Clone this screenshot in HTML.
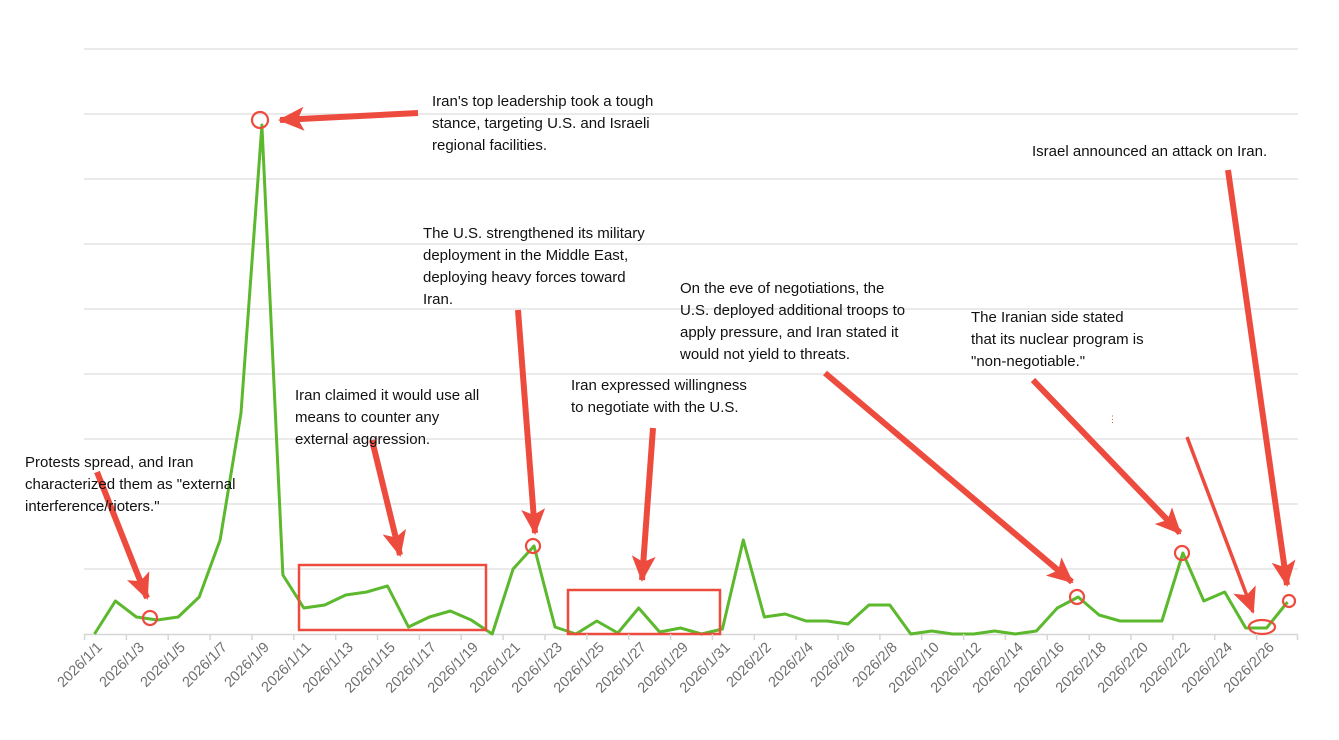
<!DOCTYPE html>
<html><head><meta charset="utf-8"><style>
body{margin:0;background:#fff;width:1339px;height:740px;overflow:hidden}
svg{display:block}
.t{font-family:"Liberation Sans",sans-serif;font-size:15px;fill:#111}
.a{font-family:"Liberation Sans",sans-serif;font-size:14.5px;fill:#6e6e6e}
</style></head><body>
<svg width="1339" height="740" viewBox="0 0 1339 740" xmlns="http://www.w3.org/2000/svg">
<defs>
<marker id="h" markerUnits="userSpaceOnUse" markerWidth="28" markerHeight="26" refX="24" refY="12" orient="auto">
<path d="M0,0 L26,12 L0,24 L6,12 Z" fill="#ee4b3f"/>
</marker>
</defs>
<g stroke="#e3e3e3" stroke-width="1.5">
<line x1="84" y1="49" x2="1298" y2="49"/><line x1="84" y1="114" x2="1298" y2="114"/>
<line x1="84" y1="179" x2="1298" y2="179"/><line x1="84" y1="244" x2="1298" y2="244"/>
<line x1="84" y1="309" x2="1298" y2="309"/><line x1="84" y1="374" x2="1298" y2="374"/>
<line x1="84" y1="439" x2="1298" y2="439"/><line x1="84" y1="504" x2="1298" y2="504"/>
<line x1="84" y1="569" x2="1298" y2="569"/>
</g>
<line x1="84" y1="634.5" x2="1298" y2="634.5" stroke="#d6d6d6" stroke-width="1.5"/>
<polyline fill="none" stroke="#5cb82c" stroke-width="3" stroke-linejoin="round" points="94.5,634 115.4,601 136.4,617 157.3,620 178.2,617 199.2,597 220.1,540 241,413 261.9,125 282.9,575 303.8,608 324.7,605 345.7,595 366.6,592 387.5,586 408.5,627 429.4,617 450.3,611 471.2,620 492.2,634 513.1,569 534,546 555,627 575.9,634 596.8,621 617.8,633 638.7,608 659.6,632 680.5,628 701.5,634 722.4,629 743.3,540 764.3,617 785.2,614 806.1,621 827.1,621 848,624 868.9,605 889.8,605 910.8,634 931.7,631 952.6,634 973.6,634 994.5,631 1015.4,634 1036.4,631 1057.3,608 1078.2,597 1099.1,615 1120.1,621 1141,621 1161.9,621 1182.9,553 1203.8,601 1224.7,592 1245.7,628 1266.6,628 1287.5,602"/>
<g fill="none" stroke="#ee4b3f" stroke-width="2.2">
<circle cx="150" cy="618" r="7"/><circle cx="260" cy="120" r="8"/><circle cx="533" cy="546" r="7"/>
<circle cx="1077" cy="597" r="7"/><circle cx="1182" cy="553" r="7"/><ellipse cx="1262" cy="627" rx="13" ry="7"/>
<circle cx="1289" cy="601" r="6"/>
<rect x="299" y="565" width="187" height="65" stroke-width="2.5"/>
<rect x="568" y="590" width="152" height="44" stroke-width="2.5"/>
</g>
<text x="1108" y="422" font-family="Liberation Sans" font-size="9" fill="#ee4b3f">⋮</text>
<g stroke="#ee4b3f" stroke-width="6" marker-end="url(#h)" fill="none">
<line x1="97" y1="472" x2="147" y2="598"/>
<line x1="418" y1="113" x2="280" y2="120"/>
<line x1="372" y1="440" x2="400" y2="555"/>
<line x1="518" y1="310" x2="535" y2="533"/>
<line x1="653" y1="428" x2="642" y2="580"/>
<line x1="825" y1="373" x2="1072" y2="582"/>
<line x1="1033" y1="380" x2="1180" y2="533"/>
<line x1="1187" y1="437" x2="1253" y2="612" stroke-width="3.5"/>
<line x1="1228" y1="170" x2="1287" y2="585"/>
</g>
<g class="t">
<text x="25" y="467">Protests spread, and Iran</text><text x="25" y="489">characterized them as "external</text><text x="25" y="511">interference/rioters."</text>
<text x="432" y="106">Iran's top leadership took a tough</text><text x="432" y="128">stance, targeting U.S. and Israeli</text><text x="432" y="150">regional facilities.</text>
<text x="423" y="238">The U.S. strengthened its military</text><text x="423" y="260">deployment in the Middle East,</text><text x="423" y="282">deploying heavy forces toward</text><text x="423" y="304">Iran.</text>
<text x="295" y="400">Iran claimed it would use all</text><text x="295" y="422">means to counter any</text><text x="295" y="444">external aggression.</text>
<text x="571" y="390">Iran expressed willingness</text><text x="571" y="412">to negotiate with the U.S.</text>
<text x="680" y="293">On the eve of negotiations, the</text><text x="680" y="315">U.S. deployed additional troops to</text><text x="680" y="337">apply pressure, and Iran stated it</text><text x="680" y="359">would not yield to threats.</text>
<text x="971" y="322">The Iranian side stated</text><text x="971" y="344">that its nuclear program is</text><text x="971" y="366">"non-negotiable."</text>
<text x="1032" y="156">Israel announced an attack on Iran.</text>
</g>
<g class="a" text-anchor="end">
<text transform="translate(103,648) rotate(-45)">2026/1/1</text>
<text transform="translate(145,648) rotate(-45)">2026/1/3</text>
<text transform="translate(186,648) rotate(-45)">2026/1/5</text>
<text transform="translate(228,648) rotate(-45)">2026/1/7</text>
<text transform="translate(270,648) rotate(-45)">2026/1/9</text>
<text transform="translate(312,648) rotate(-45)">2026/1/11</text>
<text transform="translate(354,648) rotate(-45)">2026/1/13</text>
<text transform="translate(396,648) rotate(-45)">2026/1/15</text>
<text transform="translate(437,648) rotate(-45)">2026/1/17</text>
<text transform="translate(479,648) rotate(-45)">2026/1/19</text>
<text transform="translate(521,648) rotate(-45)">2026/1/21</text>
<text transform="translate(563,648) rotate(-45)">2026/1/23</text>
<text transform="translate(605,648) rotate(-45)">2026/1/25</text>
<text transform="translate(647,648) rotate(-45)">2026/1/27</text>
<text transform="translate(689,648) rotate(-45)">2026/1/29</text>
<text transform="translate(731,648) rotate(-45)">2026/1/31</text>
<text transform="translate(772,648) rotate(-45)">2026/2/2</text>
<text transform="translate(814,648) rotate(-45)">2026/2/4</text>
<text transform="translate(856,648) rotate(-45)">2026/2/6</text>
<text transform="translate(898,648) rotate(-45)">2026/2/8</text>
<text transform="translate(940,648) rotate(-45)">2026/2/10</text>
<text transform="translate(982,648) rotate(-45)">2026/2/12</text>
<text transform="translate(1024,648) rotate(-45)">2026/2/14</text>
<text transform="translate(1065,648) rotate(-45)">2026/2/16</text>
<text transform="translate(1107,648) rotate(-45)">2026/2/18</text>
<text transform="translate(1149,648) rotate(-45)">2026/2/20</text>
<text transform="translate(1191,648) rotate(-45)">2026/2/22</text>
<text transform="translate(1233,648) rotate(-45)">2026/2/24</text>
<text transform="translate(1275,648) rotate(-45)">2026/2/26</text>
</g>
<g stroke="#d6d6d6" stroke-width="1.5">
<line x1="84.5" y1="634" x2="84.5" y2="640"/><line x1="126.4" y1="634" x2="126.4" y2="640"/><line x1="168.2" y1="634" x2="168.2" y2="640"/><line x1="210.1" y1="634" x2="210.1" y2="640"/><line x1="252" y1="634" x2="252" y2="640"/><line x1="293.8" y1="634" x2="293.8" y2="640"/><line x1="335.7" y1="634" x2="335.7" y2="640"/><line x1="377.5" y1="634" x2="377.5" y2="640"/><line x1="419.4" y1="634" x2="419.4" y2="640"/><line x1="461.3" y1="634" x2="461.3" y2="640"/><line x1="503.1" y1="634" x2="503.1" y2="640"/><line x1="545" y1="634" x2="545" y2="640"/><line x1="586.8" y1="634" x2="586.8" y2="640"/><line x1="628.7" y1="634" x2="628.7" y2="640"/><line x1="670.6" y1="634" x2="670.6" y2="640"/><line x1="712.4" y1="634" x2="712.4" y2="640"/><line x1="754.3" y1="634" x2="754.3" y2="640"/><line x1="796.1" y1="634" x2="796.1" y2="640"/><line x1="838" y1="634" x2="838" y2="640"/><line x1="879.9" y1="634" x2="879.9" y2="640"/><line x1="921.7" y1="634" x2="921.7" y2="640"/><line x1="963.6" y1="634" x2="963.6" y2="640"/><line x1="1005.4" y1="634" x2="1005.4" y2="640"/><line x1="1047.3" y1="634" x2="1047.3" y2="640"/><line x1="1089.2" y1="634" x2="1089.2" y2="640"/><line x1="1131" y1="634" x2="1131" y2="640"/><line x1="1172.9" y1="634" x2="1172.9" y2="640"/><line x1="1214.7" y1="634" x2="1214.7" y2="640"/><line x1="1256.6" y1="634" x2="1256.6" y2="640"/><line x1="1297.5" y1="634" x2="1297.5" y2="640"/>
</g>
</svg>
</body></html>
